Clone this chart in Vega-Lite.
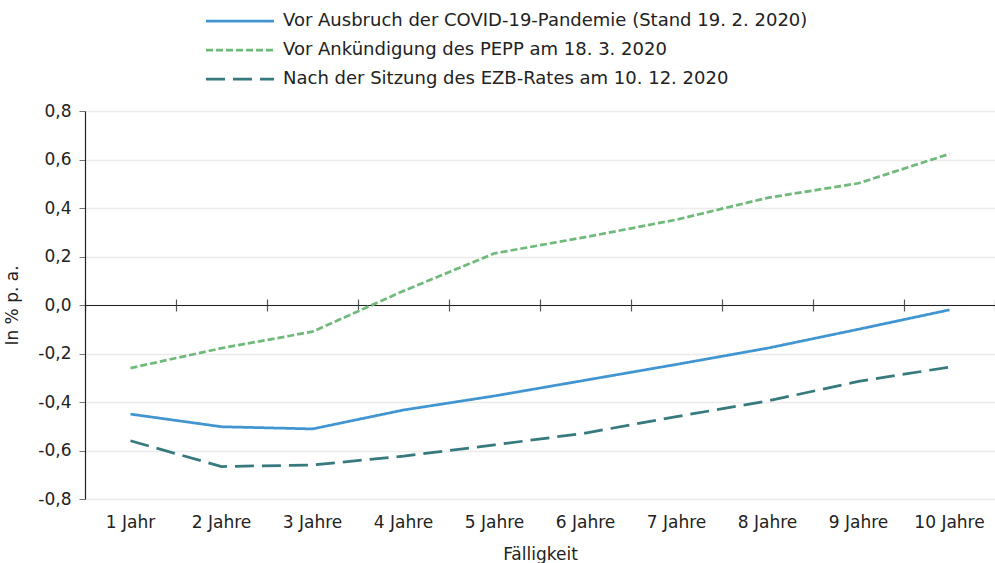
{
  "$schema": "https://vega.github.io/schema/vega-lite/v6.json",
  "autosize": "none",
  "width": 910,
  "height": 388,
  "padding": {"left": 85, "top": 111, "right": 0, "bottom": 64},
  "background": "white",
  "config": {
    "font": "DejaVu Sans",
    "view": {"stroke": null},
    "axis": {"labelFont": "DejaVu Sans", "titleFont": "DejaVu Sans", "labelColor": "#222", "titleColor": "#222"},
    "legend": {"labelFont": "DejaVu Sans"}
  },
  "data": {
    "values": [
      {"Laufzeit": "1 Jahr", "Serie": "Vor Ausbruch der COVID-19-Pandemie (Stand 19. 2. 2020)", "Wert": -0.45},
      {"Laufzeit": "2 Jahre", "Serie": "Vor Ausbruch der COVID-19-Pandemie (Stand 19. 2. 2020)", "Wert": -0.502},
      {"Laufzeit": "3 Jahre", "Serie": "Vor Ausbruch der COVID-19-Pandemie (Stand 19. 2. 2020)", "Wert": -0.511},
      {"Laufzeit": "4 Jahre", "Serie": "Vor Ausbruch der COVID-19-Pandemie (Stand 19. 2. 2020)", "Wert": -0.433},
      {"Laufzeit": "5 Jahre", "Serie": "Vor Ausbruch der COVID-19-Pandemie (Stand 19. 2. 2020)", "Wert": -0.375},
      {"Laufzeit": "6 Jahre", "Serie": "Vor Ausbruch der COVID-19-Pandemie (Stand 19. 2. 2020)", "Wert": -0.31},
      {"Laufzeit": "7 Jahre", "Serie": "Vor Ausbruch der COVID-19-Pandemie (Stand 19. 2. 2020)", "Wert": -0.245},
      {"Laufzeit": "8 Jahre", "Serie": "Vor Ausbruch der COVID-19-Pandemie (Stand 19. 2. 2020)", "Wert": -0.178},
      {"Laufzeit": "9 Jahre", "Serie": "Vor Ausbruch der COVID-19-Pandemie (Stand 19. 2. 2020)", "Wert": -0.10},
      {"Laufzeit": "10 Jahre", "Serie": "Vor Ausbruch der COVID-19-Pandemie (Stand 19. 2. 2020)", "Wert": -0.02},
      {"Laufzeit": "1 Jahr", "Serie": "Vor Ankündigung des PEPP am 18. 3. 2020", "Wert": -0.26},
      {"Laufzeit": "2 Jahre", "Serie": "Vor Ankündigung des PEPP am 18. 3. 2020", "Wert": -0.178},
      {"Laufzeit": "3 Jahre", "Serie": "Vor Ankündigung des PEPP am 18. 3. 2020", "Wert": -0.11},
      {"Laufzeit": "4 Jahre", "Serie": "Vor Ankündigung des PEPP am 18. 3. 2020", "Wert": 0.058},
      {"Laufzeit": "5 Jahre", "Serie": "Vor Ankündigung des PEPP am 18. 3. 2020", "Wert": 0.213},
      {"Laufzeit": "6 Jahre", "Serie": "Vor Ankündigung des PEPP am 18. 3. 2020", "Wert": 0.28},
      {"Laufzeit": "7 Jahre", "Serie": "Vor Ankündigung des PEPP am 18. 3. 2020", "Wert": 0.352},
      {"Laufzeit": "8 Jahre", "Serie": "Vor Ankündigung des PEPP am 18. 3. 2020", "Wert": 0.442},
      {"Laufzeit": "9 Jahre", "Serie": "Vor Ankündigung des PEPP am 18. 3. 2020", "Wert": 0.502},
      {"Laufzeit": "10 Jahre", "Serie": "Vor Ankündigung des PEPP am 18. 3. 2020", "Wert": 0.623},
      {"Laufzeit": "1 Jahr", "Serie": "Nach der Sitzung des EZB-Rates am 10. 12. 2020", "Wert": -0.56},
      {"Laufzeit": "2 Jahre", "Serie": "Nach der Sitzung des EZB-Rates am 10. 12. 2020", "Wert": -0.666},
      {"Laufzeit": "3 Jahre", "Serie": "Nach der Sitzung des EZB-Rates am 10. 12. 2020", "Wert": -0.66},
      {"Laufzeit": "4 Jahre", "Serie": "Nach der Sitzung des EZB-Rates am 10. 12. 2020", "Wert": -0.623},
      {"Laufzeit": "5 Jahre", "Serie": "Nach der Sitzung des EZB-Rates am 10. 12. 2020", "Wert": -0.577},
      {"Laufzeit": "6 Jahre", "Serie": "Nach der Sitzung des EZB-Rates am 10. 12. 2020", "Wert": -0.528},
      {"Laufzeit": "7 Jahre", "Serie": "Nach der Sitzung des EZB-Rates am 10. 12. 2020", "Wert": -0.46},
      {"Laufzeit": "8 Jahre", "Serie": "Nach der Sitzung des EZB-Rates am 10. 12. 2020", "Wert": -0.396},
      {"Laufzeit": "9 Jahre", "Serie": "Nach der Sitzung des EZB-Rates am 10. 12. 2020", "Wert": -0.315},
      {"Laufzeit": "10 Jahre", "Serie": "Nach der Sitzung des EZB-Rates am 10. 12. 2020", "Wert": -0.256}
    ]
  },
  "resolve": {"axis": {"x": "independent", "y": "independent"}},
  "layer": [
    {
      "mark": {"type": "line", "opacity": 0},
      "encoding": {
        "x": {"field": "Laufzeit", "type": "nominal", "sort": null, "bandPosition": 0.5,
              "scale": {"type": "band", "paddingInner": 0, "paddingOuter": 0},
              "axis": {"orient": "bottom", "offset": -194, "labels": false, "title": null, "domain": true, "domainColor": "#222", "domainWidth": 1.2, "ticks": true, "tickBand": "extent", "tickSize": 6, "tickColor": "#555", "tickWidth": 1.2, "grid": false}},
        "y": {"field": "Wert", "type": "quantitative",
              "scale": {"domain": [-0.8, 0.8], "nice": false},
              "axis": {"orient": "left", "title": "In % p. a.", "titleFontSize": 17, "titleFontWeight": "normal", "titlePadding": 16, "labelFontSize": 17, "labelPadding": 8,
                       "values": [-0.8, -0.6, -0.4, -0.2, 0, 0.2, 0.4, 0.6, 0.8],
                       "labelExpr": "replace(replace(format(datum.value, '.1f'), '.', ','), '\u2212', '-')",
                       "domain": true, "domainColor": "#222", "domainWidth": 1.2, "ticks": true, "tickSize": 6, "tickColor": "#777",
                       "grid": true, "gridColor": "#ebebeb", "gridWidth": 1.5}},
        "detail": {"field": "Serie"}
      }
    },
    {
      "mark": {"type": "line", "opacity": 0},
      "encoding": {
        "x": {"field": "Laufzeit", "type": "nominal", "sort": null, "bandPosition": 0.5,
              "axis": {"orient": "top", "offset": -194, "labels": false, "title": null, "domain": false, "ticks": true, "tickBand": "extent", "tickSize": 6, "tickColor": "#555", "tickWidth": 1.2, "grid": false}},
        "y": {"field": "Wert", "type": "quantitative", "axis": null},
        "detail": {"field": "Serie"}
      }
    },
    {
      "mark": {"type": "line", "strokeWidth": 2.75, "interpolate": "linear"},
      "encoding": {
        "x": {"field": "Laufzeit", "type": "nominal", "sort": null, "bandPosition": 0.5,
              "axis": {"orient": "bottom", "title": "Fälligkeit", "titleFontSize": 17, "titleFontWeight": "normal", "titlePadding": 16, "labelFontSize": 17, "labelAngle": 0, "labelPadding": 15, "domain": false, "ticks": false, "grid": false}},
        "y": {"field": "Wert", "type": "quantitative", "axis": null},
        "color": {"field": "Serie", "type": "nominal", "sort": null,
                  "scale": {"domain": ["Vor Ausbruch der COVID-19-Pandemie (Stand 19. 2. 2020)", "Vor Ankündigung des PEPP am 18. 3. 2020", "Nach der Sitzung des EZB-Rates am 10. 12. 2020"],
                            "range": ["#4196d1", "#6fba7a", "#367a7e"]},
                  "legend": {"orient": "none", "legendX": 145, "legendY": -100, "title": null, "labelFontSize": 18, "labelLimit": 0, "labelColor": "#222", "symbolType": "M-4,0H4", "symbolSize": 289, "symbolStrokeWidth": 2.75, "symbolFillColor": "transparent", "rowPadding": 10, "labelOffset": 33}},
        "strokeDash": {"field": "Serie", "type": "nominal", "sort": null,
                       "scale": {"domain": ["Vor Ausbruch der COVID-19-Pandemie (Stand 19. 2. 2020)", "Vor Ankündigung des PEPP am 18. 3. 2020", "Nach der Sitzung des EZB-Rates am 10. 12. 2020"],
                                 "range": [[1, 0], [7, 3], [19, 8]]},
                       "legend": {"orient": "none", "legendX": 145, "legendY": -100, "title": null}}
      }
    }
  ]
}
